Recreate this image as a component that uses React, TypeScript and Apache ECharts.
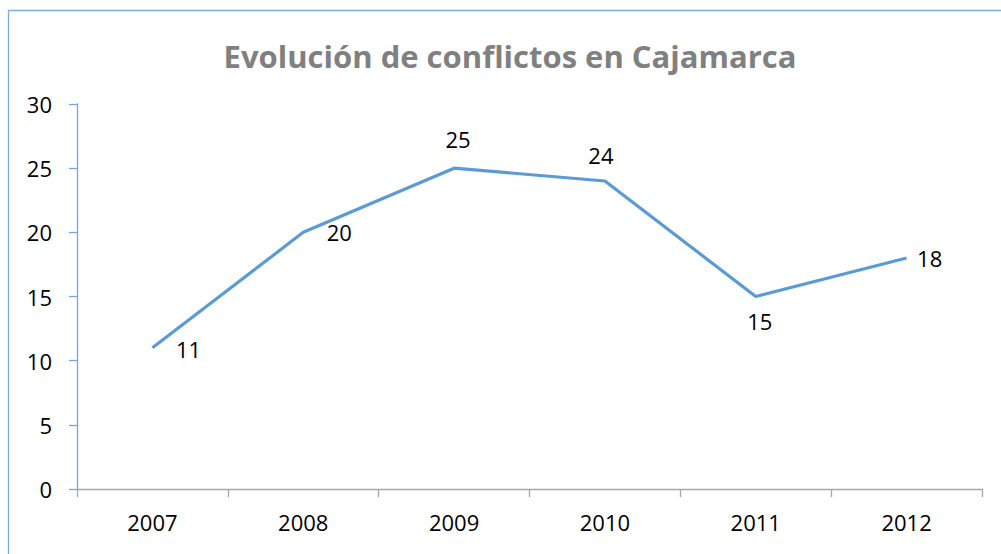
import React, { useEffect, useRef } from "react";
import * as echarts from "echarts";

const years = ["2007", "2008", "2009", "2010", "2011", "2012"];
const conflicts = [11, 20, 25, 24, 15, 18];
const labelPositions = ["right", "right", "top", "top", "bottom", "right"];
const title = "Evolución de conflictos en Cajamarca";

const labelOffsets = [
  [11, 1],
  [11, 0],
  [4, -6],
  [-4, -3],
  [4, 1],
  [-2, 0],
];

export default function App() {
  const ref = useRef<HTMLDivElement>(null);
  useEffect(() => {
    const chart = echarts.init(ref.current!, null, { renderer: "svg" });
    const font = "'Open Sans', 'Noto Sans', sans-serif";
    chart.setOption({
      animation: false,
      backgroundColor: "#ffffff",
      title: {
        text: title,
        left: 505,
        top: 35,
        textAlign: "center",
        textStyle: { color: "#808080", fontSize: 31, fontWeight: "bold", fontFamily: font },
      },
      graphic: [
        {
          type: "rect",
          shape: { x: 8.5, y: 10.5, width: 1100, height: 700 },
          style: { fill: "none", stroke: "#7aaee0", lineWidth: 1.3 },
          silent: true,
        },
      ],
      grid: { left: 77, right: 19, top: 104, bottom: 65 },
      xAxis: {
        type: "category",
        data: years,
        boundaryGap: true,
        axisLine: { lineStyle: { color: "#a6a6a6", width: 1.3 } },
        axisTick: { show: true, length: 8, lineStyle: { color: "#a6a6a6", width: 1.3 } },
        axisLabel: { color: "#000", fontSize: 22, fontFamily: font, margin: 22 },
        splitLine: { show: false },
      },
      yAxis: {
        type: "value",
        min: 0,
        max: 30,
        interval: 5,
        axisLine: { show: true, lineStyle: { color: "#6fa8dc", width: 1.3 } },
        axisTick: { show: true, length: 8, lineStyle: { color: "#6fa8dc", width: 1.3 } },
        axisLabel: { color: "#000", fontSize: 22, fontFamily: font, margin: 25 },
        splitLine: { show: false },
      },
      series: [
        {
          type: "line",
          data: conflicts.map((v, i) => ({
            value: v,
            label: { position: labelPositions[i], offset: labelOffsets[i] },
          })),
          symbol: "circle",
          symbolSize: 1,
          showSymbol: true,
          itemStyle: { color: "rgba(0,0,0,0)", borderWidth: 0 },
          lineStyle: { color: "#5b9bd5", width: 3.2 },
          label: {
            show: true,
            color: "#000",
            fontSize: 22,
            fontFamily: font,
            distance: 12,
          },
        },
      ],
    });
    return () => chart.dispose();
  }, []);
  return (
    <div
      ref={ref}
      style={{ position: "absolute", left: 0, top: 0, width: 1001, height: 554 }}
    />
  );
}
